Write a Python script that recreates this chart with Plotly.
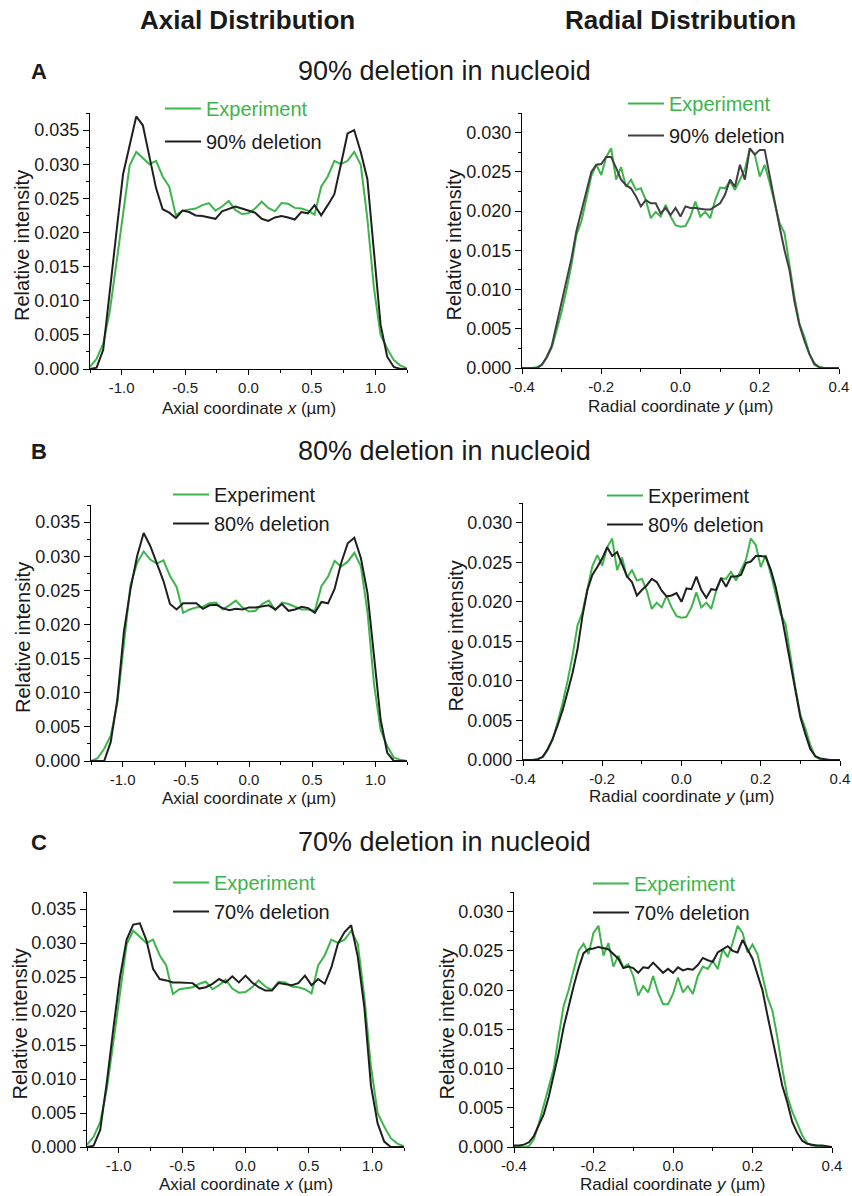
import numpy as np
import plotly.graph_objects as go

# ---------------- data ----------------
axial_x = np.linspace(-1.25, 1.25, 49)
radial_x = np.linspace(-0.4, 0.4, 65)

axial_exp_AC = [0.0003, 0.0015, 0.0037, 0.0085, 0.0155, 0.0225, 0.0298, 0.0318, 0.0309, 0.0300,
                0.0305, 0.0282, 0.0267, 0.0225, 0.0232, 0.0234, 0.0235, 0.0240, 0.0243, 0.0232,
                0.0238, 0.0246, 0.0233, 0.0227, 0.0228, 0.0235, 0.0245, 0.0236, 0.0231, 0.0243,
                0.0242, 0.0236, 0.0235, 0.0232, 0.0226, 0.0267, 0.0282, 0.0305, 0.0300, 0.0305,
                0.0318, 0.0299, 0.0220, 0.0118, 0.0050, 0.0030, 0.0013, 0.0005, 0.0001]
axial_exp_B = [0.0000, 0.0004, 0.0018, 0.0037, 0.0085, 0.0168, 0.0258, 0.0290, 0.0307, 0.0295,
               0.0289, 0.0294, 0.0271, 0.0255, 0.0217, 0.0222, 0.0225, 0.0226, 0.0231, 0.0232,
               0.0222, 0.0228, 0.0235, 0.0225, 0.0219, 0.0220, 0.0230, 0.0235, 0.0221, 0.0232,
               0.0230, 0.0226, 0.0222, 0.0222, 0.0220, 0.0256, 0.0270, 0.0293, 0.0285, 0.0292,
               0.0305, 0.0285, 0.0218, 0.0112, 0.0045, 0.0022, 0.0005, 0.0002, 0.0000]
axial_sim_90 = [0.0000, 0.0002, 0.0028, 0.0110, 0.0200, 0.0285, 0.0330, 0.0370, 0.0357, 0.0310,
                0.0265, 0.0234, 0.0229, 0.0221, 0.0232, 0.0230, 0.0225, 0.0224, 0.0222, 0.0220,
                0.0231, 0.0235, 0.0238, 0.0235, 0.0232, 0.0229, 0.0220, 0.0217, 0.0222, 0.0224,
                0.0222, 0.0219, 0.0230, 0.0228, 0.0240, 0.0225, 0.0240, 0.0256, 0.0300, 0.0345,
                0.0350, 0.0318, 0.0278, 0.0168, 0.0065, 0.0018, 0.0003, 0.0000, 0.0000]
axial_sim_80 = [0.0000, 0.0000, 0.0000, 0.0028, 0.0090, 0.0190, 0.0252, 0.0300, 0.0334, 0.0315,
                0.0290, 0.0264, 0.0230, 0.0222, 0.0231, 0.0231, 0.0231, 0.0223, 0.0228, 0.0229,
                0.0224, 0.0221, 0.0223, 0.0222, 0.0225, 0.0225, 0.0227, 0.0228, 0.0222, 0.0230,
                0.0220, 0.0222, 0.0226, 0.0224, 0.0217, 0.0233, 0.0231, 0.0252, 0.0290, 0.0319,
                0.0327, 0.0297, 0.0246, 0.0155, 0.0060, 0.0012, 0.0000, 0.0000, 0.0000]
axial_sim_70 = [0.0000, 0.0002, 0.0025, 0.0095, 0.0175, 0.0250, 0.0305, 0.0327, 0.0329, 0.0304,
                0.0262, 0.0247, 0.0245, 0.0242, 0.0242, 0.0242, 0.0241, 0.0233, 0.0235, 0.0240,
                0.0247, 0.0242, 0.0251, 0.0242, 0.0252, 0.0242, 0.0235, 0.0230, 0.0230, 0.0241,
                0.0239, 0.0238, 0.0241, 0.0252, 0.0238, 0.0247, 0.0240, 0.0264, 0.0299, 0.0316,
                0.0326, 0.0280, 0.0205, 0.0090, 0.0035, 0.0008, 0.0000, 0.0000, 0.0000]

radial_exp_AB = [0.0000, 0.0000, 0.0000, 0.0001, 0.0004, 0.0013, 0.0026, 0.0048, 0.0072, 0.0100,
                 0.0132, 0.0170, 0.0187, 0.0216, 0.0245, 0.0259, 0.0246, 0.0269, 0.0280, 0.0240,
                 0.0256, 0.0231, 0.0240, 0.0227, 0.0229, 0.0214, 0.0191, 0.0199, 0.0193, 0.0208,
                 0.0193, 0.0182, 0.0180, 0.0181, 0.0193, 0.0212, 0.0193, 0.0199, 0.0191, 0.0214,
                 0.0230, 0.0229, 0.0238, 0.0227, 0.0240, 0.0253, 0.0280, 0.0272, 0.0244, 0.0259,
                 0.0236, 0.0210, 0.0185, 0.0172, 0.0129, 0.0091, 0.0057, 0.0040, 0.0019, 0.0004,
                 0.0001, 0.0000, 0.0000, 0.0000, 0.0000]
radial_exp_C = [0.0000, 0.0000, 0.0000, 0.0001, 0.0010, 0.0030, 0.0053, 0.0075, 0.0100, 0.0142,
                0.0180, 0.0200, 0.0225, 0.0250, 0.0259, 0.0246, 0.0273, 0.0282, 0.0244, 0.0260,
                0.0230, 0.0244, 0.0229, 0.0233, 0.0218, 0.0193, 0.0205, 0.0197, 0.0218, 0.0197,
                0.0182, 0.0182, 0.0195, 0.0216, 0.0197, 0.0205, 0.0195, 0.0218, 0.0230, 0.0227,
                0.0237, 0.0227, 0.0252, 0.0242, 0.0260, 0.0282, 0.0273, 0.0248, 0.0258, 0.0246,
                0.0218, 0.0191, 0.0174, 0.0140, 0.0100, 0.0065, 0.0045, 0.0030, 0.0015, 0.0005,
                0.0002, 0.0001, 0.0000, 0.0000, 0.0000]
radial_sim_90 = [0.0000, 0.0000, 0.0000, 0.0000, 0.0004, 0.0014, 0.0028, 0.0055, 0.0085, 0.0110,
                 0.0140, 0.0175, 0.0200, 0.0225, 0.0250, 0.0259, 0.0260, 0.0269, 0.0269, 0.0255,
                 0.0240, 0.0233, 0.0229, 0.0219, 0.0206, 0.0214, 0.0210, 0.0210, 0.0197, 0.0204,
                 0.0195, 0.0204, 0.0193, 0.0206, 0.0204, 0.0204, 0.0203, 0.0202, 0.0202, 0.0206,
                 0.0210, 0.0221, 0.0240, 0.0231, 0.0259, 0.0240, 0.0280, 0.0272, 0.0278, 0.0278,
                 0.0244, 0.0210, 0.0180, 0.0150, 0.0125, 0.0085, 0.0055, 0.0035, 0.0018, 0.0006,
                 0.0001, 0.0000, 0.0000, 0.0000, 0.0000]
radial_sim_80 = [0.0000, 0.0000, 0.0000, 0.0001, 0.0004, 0.0014, 0.0027, 0.0044, 0.0063, 0.0086,
                 0.0110, 0.0140, 0.0182, 0.0215, 0.0234, 0.0244, 0.0255, 0.0269, 0.0258, 0.0263,
                 0.0247, 0.0232, 0.0225, 0.0208, 0.0215, 0.0221, 0.0229, 0.0225, 0.0214, 0.0207,
                 0.0208, 0.0211, 0.0200, 0.0217, 0.0216, 0.0232, 0.0215, 0.0205, 0.0216, 0.0215,
                 0.0230, 0.0219, 0.0232, 0.0232, 0.0234, 0.0249, 0.0251, 0.0258, 0.0258, 0.0257,
                 0.0241, 0.0219, 0.0190, 0.0156, 0.0122, 0.0088, 0.0054, 0.0033, 0.0014, 0.0005,
                 0.0002, 0.0001, 0.0000, 0.0000, 0.0000]
radial_sim_70 = [0.0002, 0.0002, 0.0003, 0.0006, 0.0014, 0.0028, 0.0042, 0.0064, 0.0090, 0.0120,
                 0.0153, 0.0180, 0.0205, 0.0228, 0.0247, 0.0252, 0.0253, 0.0255, 0.0253, 0.0252,
                 0.0246, 0.0240, 0.0228, 0.0230, 0.0228, 0.0222, 0.0229, 0.0228, 0.0235, 0.0228,
                 0.0222, 0.0227, 0.0222, 0.0229, 0.0225, 0.0227, 0.0226, 0.0232, 0.0241, 0.0238,
                 0.0236, 0.0248, 0.0252, 0.0256, 0.0250, 0.0248, 0.0264, 0.0252, 0.0240, 0.0220,
                 0.0200, 0.0168, 0.0140, 0.0108, 0.0078, 0.0057, 0.0032, 0.0018, 0.0008, 0.0004,
                 0.0003, 0.0002, 0.0002, 0.0001, 0.0000]

row_titles = ["90% deletion in nucleoid", "80% deletion in nucleoid", "70% deletion in nucleoid"]
row_letters = ["A", "B", "C"]
sim_names = ["90% deletion", "80% deletion", "70% deletion"]
col_titles = ["Axial Distribution", "Radial Distribution"]

axial_ticks = [-1.0, -0.5, 0.0, 0.5, 1.0]
axial_ticktext = ["-1.0", "-0.5", "0.0", "0.5", "1.0"]
radial_ticks = [-0.4, -0.2, 0.0, 0.2, 0.4]
radial_ticktext = ["-0.4", "-0.2", "0.0", "0.2", "0.4"]
axial_yticks = [0.0, 0.005, 0.010, 0.015, 0.020, 0.025, 0.030, 0.035]
radial_yticks = [0.0, 0.005, 0.010, 0.015, 0.020, 0.025, 0.030]

GREEN = "#3DB54A"
BLACK = "#1f1f1f"
FONT = "Liberation Sans, Arial, sans-serif"
W, H = 852, 1196

# ---------------- layout geometry (pixels) ----------------
# (x0, x1, ytop, ybottom)
panel_px = [
    (90, 407, 113, 369), (522, 839, 113, 368),
    (91, 407, 505, 761), (523, 840, 503, 760),
    (87, 404, 892, 1147), (514, 832, 892, 1147),
]
xtitle_off = [39, 39, 37, 37, 37, 37]
# legend: (x of legend box left, y top, row gap)
legend_px = [
    (160, 89, 4), (623, 84, 3),
    (168, 475, 0), (602, 476, 0),
    (168, 863, 0), (588, 864, 0),
]
green_text_colored = [True, True, False, False, True, True]

fig = go.Figure()

series = [
    (axial_x, axial_exp_AC, axial_sim_90),
    (radial_x, radial_exp_AB, radial_sim_90),
    (axial_x, axial_exp_B, axial_sim_80),
    (radial_x, radial_exp_AB, radial_sim_80),
    (axial_x, axial_exp_AC, axial_sim_70),
    (radial_x, radial_exp_C, radial_sim_70),
]

layout = dict(
    width=W, height=H, margin=dict(l=0, r=0, t=0, b=0, autoexpand=False),
    paper_bgcolor="white", plot_bgcolor="white",
    font=dict(family=FONT, color="#1a1a1a"),
    annotations=[],
)

for i, (xs, exp, sim) in enumerate(series):
    n = i + 1
    xa = "x" if n == 1 else f"x{n}"
    ya = "y" if n == 1 else f"y{n}"
    lg = "legend" if n == 1 else f"legend{n}"
    row = i // 2
    axial = (i % 2 == 0)
    exp_name = "Experiment"
    if green_text_colored[i]:
        exp_name = f"<span style='color:{GREEN}'>Experiment</span>"
    fig.add_trace(go.Scatter(x=xs, y=exp, mode="lines", name=exp_name,
                             line=dict(color=GREEN, width=2), xaxis=xa, yaxis=ya,
                             legend=lg, legendgroup=f"e{n}"))
    fig.add_trace(go.Scatter(x=xs, y=sim, mode="lines", name=sim_names[row],
                             line=dict(color="#404040" if i == 1 else BLACK, width=2),
                             xaxis=xa, yaxis=ya, legend=lg, legendgroup=f"s{n}"))

    x0, x1, yt, yb = panel_px[i]
    xdom = [x0 / W, x1 / W]
    ydom = [1 - yb / H, 1 - yt / H]
    common = dict(showline=True, linecolor="black", linewidth=1.2, ticks="outside",
                  tickwidth=1, tickcolor="black", showgrid=False, zeroline=False,
                  mirror=False)
    xkey = "xaxis" if n == 1 else f"xaxis{n}"
    ykey = "yaxis" if n == 1 else f"yaxis{n}"
    if axial:
        layout[xkey] = dict(domain=xdom, range=[-1.25, 1.25], anchor=ya, tickmode="array",
                            tickvals=axial_ticks, ticktext=axial_ticktext, ticklen=5,
                            tickfont=dict(size=15, family=FONT, color="#1a1a1a"),
                            minor=dict(tickmode="linear", tick0=0, dtick=0.25, ticks="outside",
                                       ticklen=3, tickcolor="black", showgrid=False),
                            **common)
        layout[ykey] = dict(domain=ydom, range=[0, 0.0375], anchor=xa, tickmode="array",
                            tickvals=axial_yticks, ticktext=[f"{v:.3f}" for v in axial_yticks],
                            ticklen=6, tickfont=dict(size=18, family=FONT, color="#1a1a1a"),
                            minor=dict(tickmode="linear", tick0=0, dtick=0.0025, ticks="outside",
                                       ticklen=3, tickcolor="black", showgrid=False),
                            **common)
        xtitle = "Axial coordinate <i>x</i> (µm)"
    else:
        layout[xkey] = dict(domain=xdom, range=[-0.4, 0.4], anchor=ya, tickmode="array",
                            tickvals=radial_ticks, ticktext=radial_ticktext, ticklen=5,
                            tickfont=dict(size=15, family=FONT, color="#1a1a1a"),
                            minor=dict(tickmode="linear", tick0=0, dtick=0.1, ticks="outside",
                                       ticklen=3, tickcolor="black", showgrid=False),
                            **common)
        layout[ykey] = dict(domain=ydom, range=[0, 0.0325], anchor=xa, tickmode="array",
                            tickvals=radial_yticks, ticktext=[f"{v:.3f}" for v in radial_yticks],
                            ticklen=6, tickfont=dict(size=18, family=FONT, color="#1a1a1a"),
                            minor=dict(tickmode="linear", tick0=0, dtick=0.0025, ticks="outside",
                                       ticklen=3, tickcolor="black", showgrid=False),
                            **common)
        xtitle = "Radial coordinate <i>y</i> (µm)"

    # axis titles as annotations
    layout["annotations"].append(dict(
        text=xtitle, x=(x0 + x1) / 2 / W, y=1 - (yb + xtitle_off[i]) / H, xref="paper",
        yref="paper", xanchor="center", yanchor="middle", showarrow=False,
        font=dict(size=17, family=FONT, color="#1a1a1a")))
    layout["annotations"].append(dict(
        text="Relative intensity", x=(x0 - 68) / W, y=1 - ((yt + yb) / 2 + 5) / H,
        xref="paper", yref="paper", xanchor="center", yanchor="middle", textangle=-90,
        showarrow=False, font=dict(size=20, family=FONT, color="#1a1a1a")))

    lx, ly, gap = legend_px[i]
    layout[lg] = dict(x=lx / W, y=1 - ly / H, xanchor="left", yanchor="top",
                      xref="paper", yref="paper", bgcolor="rgba(0,0,0,0)", borderwidth=0,
                      font=dict(size=20, family=FONT, color="#1a1a1a"),
                      tracegroupgap=gap, itemwidth=36, traceorder="grouped")

# headers
for j, t in enumerate(col_titles):
    cx = [248, 680][j]
    layout["annotations"].append(dict(
        text=f"<b>{t}</b>", x=cx / W, y=1 - 20 / H, xref="paper", yref="paper",
        xanchor="center", yanchor="middle", showarrow=False,
        font=dict(size=26, family=FONT, color="#1a1a1a")))

row_y = [71, 451, 842]
for r in range(3):
    layout["annotations"].append(dict(
        text=f"<b>{row_letters[r]}</b>", x=39 / W, y=1 - row_y[r] / H, xref="paper",
        yref="paper", xanchor="center", yanchor="middle", showarrow=False,
        font=dict(size=22, family=FONT, color="#1a1a1a")))
    layout["annotations"].append(dict(
        text=row_titles[r], x=444 / W, y=1 - row_y[r] / H, xref="paper", yref="paper",
        xanchor="center", yanchor="middle", showarrow=False,
        font=dict(size=27, family=FONT, color="#1a1a1a")))

fig.update_layout(**layout)
fig.write_html("out.html")
